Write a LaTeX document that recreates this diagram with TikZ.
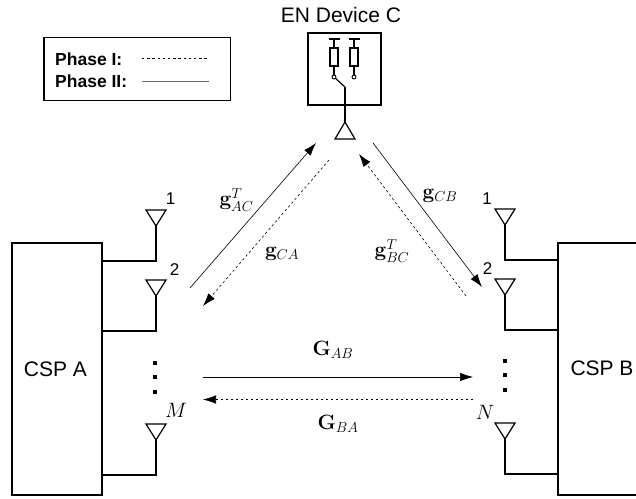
\documentclass[tikz,border=0pt]{standalone}
\usepackage[no-math]{fontspec}
\usepackage{amsmath}
\setmainfont{Liberation Sans}
\usetikzlibrary{arrows.meta,calc}
\tikzset{
  thick line/.style={line width=1.2pt,line join=miter},
  devbox/.style={draw,line width=1.2pt,inner sep=0pt,font=\fontsize{21}{24}\selectfont},
  link/.style={line width=0.6pt,-{Latex[length=13pt,width=8.5pt]}},
  dlink/.style={link,dash pattern=on 2.4pt off 2.6pt},
  lab/.style={inner sep=0pt,font=\fontsize{20}{24}\selectfont},
  num/.style={inner sep=0pt,font=\fontsize{17}{20}\selectfont},
  leg/.style={inner sep=0pt,anchor=west,font=\bfseries\fontsize{17.5}{20}\selectfont},
  vdot/.style={fill=black,inner sep=0pt,minimum size=4pt,rectangle},
  pinv/.style={circle,draw,line width=0.9pt,fill=white,inner sep=0pt,minimum size=4pt},
  resist/.style={draw,line width=1.2pt,inner sep=0pt,minimum width=8pt,minimum height=18pt}
}
\newcommand{\antdown}[2]{\draw[thick line] ($(#1)+(-10,-16)$) -- ($(#1)+(10,-16)$) -- (#1) -- cycle;}
\begin{document}
\begin{tikzpicture}[x=1pt,y=-1pt]
\useasboundingbox (0,0) rectangle (636,498);
% legend
\node[draw,line width=1.5pt,minimum width=186.5pt,minimum height=63pt,inner sep=0pt] (legend) at (137.25,69) {};
\node[leg] (ph1) at (55,59.5) {Phase I:};
\node[leg] (ph2) at (55,81) {Phase II:};
\coordinate (l1a) at (142,58); \coordinate (l1b) at (209,58);
\coordinate (l2a) at (142,81.5); \coordinate (l2b) at (209,81.5);
\draw[line width=0.5pt,dash pattern=on 2.4pt off 2.8pt] (l1a) -- (l1b);
\draw[line width=1pt,black!60] (l2a) -- (l2b);
% CSP boxes
\node[devbox,minimum width=90pt,minimum height=252pt] (A) at (57,369) {};
\node[inner sep=0pt,font=\fontsize{21}{24}\selectfont] (Atext) at (55.5,369) {CSP A};
\node[devbox,minimum width=90pt,minimum height=252pt] (Bbox) at (603,369) {};
\node[inner sep=0pt,font=\fontsize{21}{24}\selectfont] (B) at (602,368.5) {CSP B};
% antennas A
\coordinate (a1) at (156,226); \coordinate (a2) at (156,296); \coordinate (a3) at (156,440);
\coordinate (a1c) at (156,261); \coordinate (a2c) at (156,331); \coordinate (a3c) at (156,475);
\foreach \n in {1,2,3}{\antdown{a\n}{}\draw[thick line] (a\n) -- (a\n c) -- (a\n c -| A.east);}
% antennas B
\coordinate (b1) at (505,225); \coordinate (b2) at (505,295); \coordinate (b3) at (505,439);
\coordinate (b1c) at (505,260); \coordinate (b2c) at (505,330); \coordinate (b3c) at (505,474);
\foreach \n in {1,2,3}{\antdown{b\n}{}\draw[thick line] (b\n) -- (b\n c) -- (b\n c -| Bbox.west);}
% dots
\node[vdot] (da1) at (155,363) {}; \node[vdot] (da2) at (155,377) {}; \node[vdot] (da3) at (155,391.5) {};
\node[vdot] (db1) at (505,361) {}; \node[vdot] (db2) at (505,375) {}; \node[vdot] (db3) at (505,390) {};
% antenna labels
\node[num] (n1) at (170.5,199) {1};
\node[num] (n2) at (174.5,269.5) {2};
\node[lab] (nM) at (176,410) {$M$};
\node[num] (m1) at (487,199) {1};
\node[num] (m2) at (487.5,269) {2};
\node[lab] (nN) at (485,412) {$N$};
% EN device
\node[inner sep=0pt,font=\fontsize{21}{24}\selectfont] (title) at (341,15) {EN Device C};
\node[draw,line width=1.2pt,minimum width=73pt,minimum height=72pt,inner sep=0pt] (C) at (344.5,69) {};
\coordinate (capex) at (345,122);
\draw[thick line] (335,139) -- (355,139) -- (capex) -- cycle;
\coordinate (sw) at (345,87);
\draw[thick line] (capex) -- (sw);
\node[resist] (r1) at (334,57) {};
\node[resist] (r2) at (354,57) {};
\coordinate (t1) at (334,39); \coordinate (t2) at (354,39);
\draw[line width=1.2pt] (329,39) -- (339.5,39); \draw[line width=1.2pt] (349,39) -- (359.5,39);
\draw[thick line] (t1) -- (r1); \draw[thick line] (t2) -- (r2);
\node[pinv] (p1) at (334,77) {};
\node[pinv] (p2) at (354,77) {};
\draw[thick line] (r1) -- (p1); \draw[thick line] (r2) -- (p2);
\node[resist,fill=white] at (r1) {}; \node[resist,fill=white] at (r2) {};
\draw[thick line] (sw) -- (p1);
% links
\coordinate (ac0) at (190,288); \coordinate (ac1) at (316,143);
\coordinate (ca0) at (329,160); \coordinate (ca1) at (203,306);
\coordinate (cb0) at (373,143); \coordinate (cb1) at (482,287);
\coordinate (bc0) at (466,296); \coordinate (bc1) at (359,154);
\coordinate (ab0) at (203,377); \coordinate (ab1) at (473,377);
\coordinate (ba0) at (473,399.5); \coordinate (ba1) at (203,399.5);
\draw[link] (ac0) -- (ac1);
\draw[dlink] (ca0) -- (ca1);
\draw[link] (cb0) -- (cb1);
\draw[dlink] (bc0) -- (bc1);
\draw[link] (ab0) -- (ab1);
\draw[dlink] (ba0) -- (ba1);
% link labels
\node[lab] (gac) at (236.5,200) {$\mathbf{g}_{AC}^{T}$};
\node[lab] (gca) at (282,254) {$\mathbf{g}_{CA}$};
\node[lab] (gcb) at (440,196) {$\mathbf{g}_{CB}$};
\node[lab] (gbc) at (392,251) {$\mathbf{g}_{BC}^{T}$};
\node[lab] (gab) at (333,350) {$\mathbf{G}_{AB}$};
\node[lab] (gba) at (338,424) {$\mathbf{G}_{BA}$};
\end{tikzpicture}
\end{document}
